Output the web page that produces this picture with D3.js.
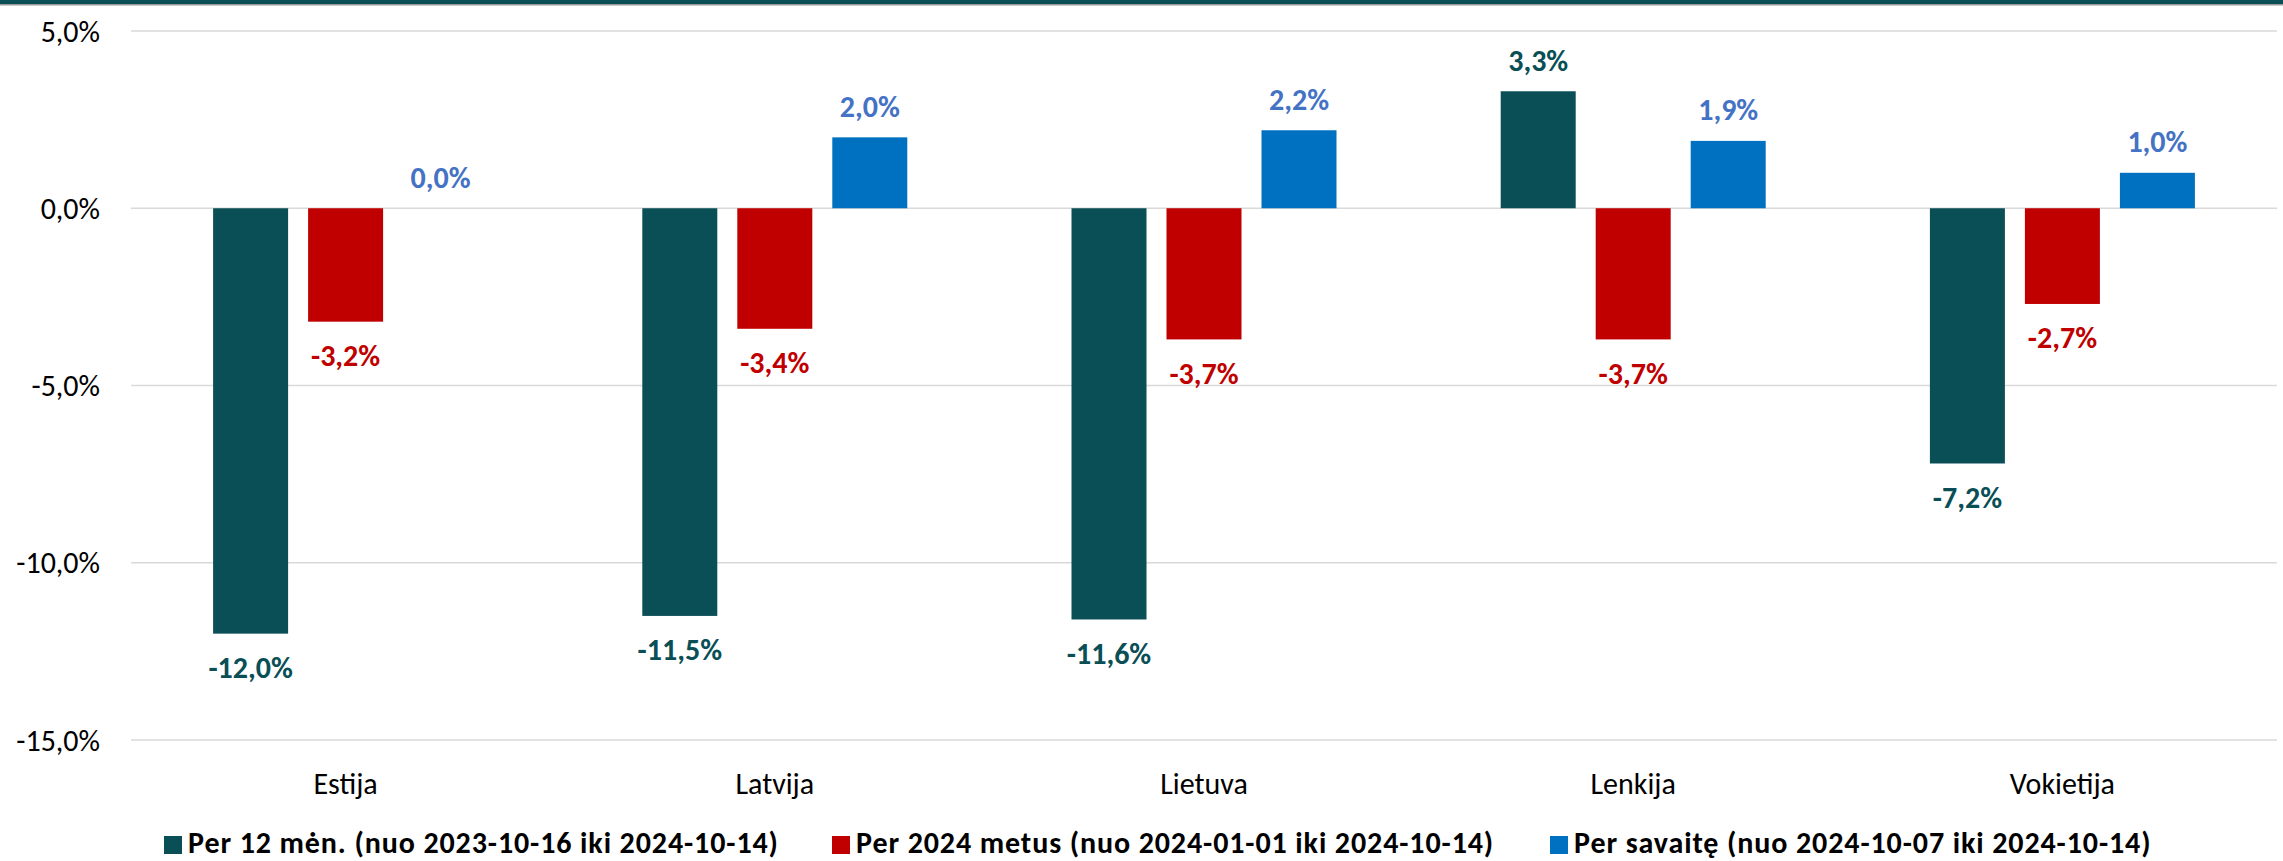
<!DOCTYPE html>
<html>
<head>
<meta charset="utf-8">
<script src="https://cdn.jsdelivr.net/npm/d3@7"></script>
<style>
    body { margin: 0; background: #fff; }
    text { font-family: Carlito, Lato, "Open Sans", sans-serif; }
</style>
</head>
<body>
<div id="chart"></div>
<script>
// chart data
const countries = ["Estija", "Latvija", "Lietuva", "Lenkija", "Vokietija"];
const seriesNames = [
    "Per 12 mėn. (nuo 2023-10-16 iki 2024-10-14)",
    "Per 2024 metus (nuo 2024-01-01 iki 2024-10-14)",
    "Per savaitę (nuo 2024-10-07 iki 2024-10-14)"
];
const perYear = [-12.0, -11.5, -11.6, 3.3, -7.2];
const perYtd = [-3.2, -3.4, -3.7, -3.7, -2.7];
const perWeek = [0.0, 2.0, 2.2, 1.9, 1.0];
const yTicks = [5, 0, -5, -10, -15];

const barColors = ["#0a4f56", "#c00000", "#0070c0"];
const labelColors = ["#0a4f56", "#c00000", "#4472c4"];

const W = 2283, H = 861;
const margin = { top: 31, right: 6, bottom: 121, left: 131 };
const width = W - margin.left - margin.right;
const height = H - margin.top - margin.bottom;

const svg = d3.select("#chart").append("svg")
    .attr("width", W)
    .attr("height", H);

// top stripe
svg.append("rect").attr("x", 0).attr("y", 0).attr("width", W).attr("height", 4).attr("fill", "#0a4f56");
svg.append("rect").attr("x", 0).attr("y", 4).attr("width", W).attr("height", 1.5).attr("fill", "#9a9a9a");

const g = svg.append("g").attr("transform", `translate(${margin.left},${margin.top})`);

// scales
const x0 = d3.scaleBand().domain(countries).range([0, width]);
const x1 = d3.scaleBand().domain(d3.range(3))
    .range([x0.bandwidth() / 2 - 132.5, x0.bandwidth() / 2 + 132.5])
    .paddingInner(20 / 95);
const y = d3.scaleLinear().domain([-15, 5]).range([height, 0]);

// gridlines
g.append("g").selectAll("line")
    .data(yTicks)
    .join("line")
    .attr("x1", 0).attr("x2", width)
    .attr("y1", d => y(d)).attr("y2", d => y(d))
    .attr("stroke", "#d9d9d9")
    .attr("stroke-width", 1.5);

// percent with comma decimal and plain hyphen
const fmt = v => v.toFixed(1).replace(".", ",") + "%";

// y tick labels
g.append("g").selectAll("text")
    .data(yTicks)
    .join("text")
    .attr("x", -31)
    .attr("y", d => y(d))
    .attr("dy", "0.35em")
    .attr("text-anchor", "end")
    .attr("font-size", "30px")
    .attr("fill", "#000")
    .text(d => fmt(d));

// x category labels
g.append("g").selectAll("text")
    .data(countries)
    .join("text")
    .attr("x", d => x0(d) + x0.bandwidth() / 2)
    .attr("y", height + 43)
    .attr("dy", "0.35em")
    .attr("text-anchor", "middle")
    .attr("font-size", "30px")
    .attr("fill", "#000")
    .text(d => d);

// bars
const series = [perYear, perYtd, perWeek];
const rows = [];
countries.forEach((c, i) => {
    series.forEach((s, j) => rows.push({ country: c, k: j, value: s[i] }));
});

const groups = g.append("g");
groups.selectAll("rect")
    .data(rows)
    .join("rect")
    .attr("x", d => x0(d.country) + x1(d.k))
    .attr("width", x1.bandwidth())
    .attr("y", d => y(Math.max(0, d.value)))
    .attr("height", d => Math.abs(y(d.value) - y(0)))
    .attr("fill", d => barColors[d.k]);

// data labels
groups.selectAll("text")
    .data(rows)
    .join("text")
    .attr("x", d => x0(d.country) + x1(d.k) + x1.bandwidth() / 2)
    .attr("y", d => d.value >= 0 ? y(d.value) - 31 : y(d.value) + 34)
    .attr("dy", "0.35em")
    .attr("text-anchor", "middle")
    .attr("font-size", "30px")
    .attr("font-weight", "bold")
    .attr("fill", d => labelColors[d.k])
    .text(d => fmt(d.value));

// legend
const legendX = [164, 832, 1550];
const legend = svg.append("g").selectAll("g")
    .data(seriesNames)
    .join("g")
    .attr("transform", (d, i) => `translate(${legendX[i]}, 853)`);

legend.append("rect")
    .attr("x", 0).attr("y", -17)
    .attr("width", 18).attr("height", 18)
    .attr("fill", (d, i) => barColors[i]);

legend.append("text")
    .attr("x", 24)
    .attr("y", 0)
    .attr("font-size", "30px")
    .attr("font-weight", "bold")
    .attr("letter-spacing", "0.9px")
    .attr("fill", "#000")
    .text(d => d);
</script>
</body>
</html>
